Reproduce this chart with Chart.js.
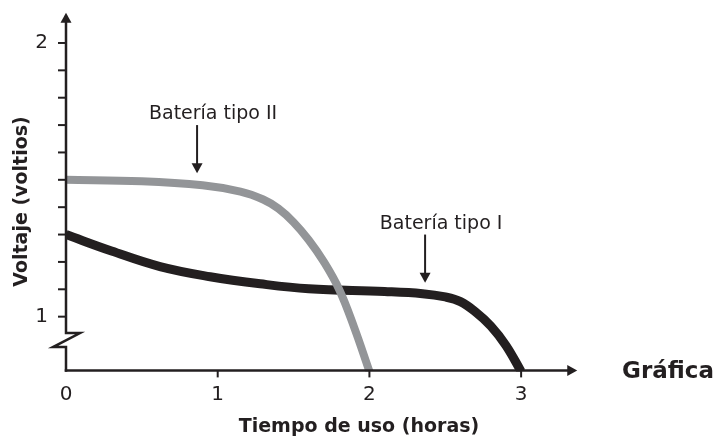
<!DOCTYPE html>
<html>
<head>
<meta charset="utf-8">
<script src="https://cdn.jsdelivr.net/npm/chart.js@4.4.1/dist/chart.umd.min.js"></script>
<style>
  html, body { margin: 0; padding: 0; background: #fff; }
  #wrap { width: 720px; height: 437px; position: relative; }
</style>
</head>
<body>
<div id="wrap"><canvas id="voltajeChart"></canvas></div>
<script>
// Valores (tiempo en horas, voltaje en voltios)
const tiempoTipoII = [0, 0.5, 0.9, 1.15, 1.3, 1.4, 1.5, 1.6, 1.7, 1.8, 1.9, 2.0];
const voltajeTipoII = [1.50, 1.495, 1.48, 1.457, 1.428, 1.395, 1.345, 1.28, 1.20, 1.10, 0.96, 0.80];
const tiempoTipoI = [0, 0.3, 0.62, 0.95, 1.28, 1.6, 2.1, 2.35, 2.5, 2.6, 2.7, 2.8, 2.9, 3.0];
const voltajeTipoI = [1.30, 1.24, 1.183, 1.146, 1.12, 1.102, 1.092, 1.084, 1.072, 1.055, 1.017, 0.966, 0.895, 0.80];

// Marcas de los ejes
const xTicks = [0, 1, 2, 3];
const yTickLabels = [1, 2];
const yMinorTicks = [1.0, 1.1, 1.2, 1.3, 1.4, 1.5, 1.6, 1.7, 1.8, 1.9, 2.0];

// Flechas de las etiquetas: [tiempo, voltaje inicio, voltaje punta]
const etiquetas = ["Batería tipo II", "Batería tipo I"];
const flechaTiempo = [0.864, 2.367];
const flechaInicio = [1.70, 1.30];
const flechaPunta = [1.524, 1.124];

const NEGRO = "#231f20";
const GRIS = "#939598";
const FUENTE = "'DejaVu Sans', Verdana, sans-serif";

const toPoints = (xs, ys) => xs.map((x, i) => ({ x: x, y: ys[i] }));

function flecha(ctx, x, y1, y2) {
    ctx.beginPath();
    ctx.moveTo(x, y1);
    ctx.lineTo(x, y2 - 9);
    ctx.stroke();
    ctx.beginPath();
    ctx.moveTo(x - 5.5, y2 - 10);
    ctx.lineTo(x + 5.5, y2 - 10);
    ctx.lineTo(x, y2);
    ctx.closePath();
    ctx.fill();
}

// Dibuja ejes, corte del eje, marcas, textos y flechas
const ejesPlugin = {
    id: "ejes",
    afterDatasetsDraw(chart) {
        const ctx = chart.ctx;
        const xs = chart.scales.x;
        const ys = chart.scales.y;
        const x0 = xs.getPixelForValue(0);
        const yBase = chart.chartArea.bottom - 1;

        ctx.save();
        ctx.strokeStyle = NEGRO;
        ctx.fillStyle = NEGRO;
        ctx.lineWidth = 2.5;
        ctx.lineCap = "butt";

        // eje x
        const xEnd = xs.getPixelForValue(3.37);
        ctx.beginPath();
        ctx.moveTo(x0 - 1.25, yBase);
        ctx.lineTo(xEnd - 9, yBase);
        ctx.stroke();
        ctx.beginPath();
        ctx.moveTo(xEnd - 10, yBase - 5.5);
        ctx.lineTo(xEnd - 10, yBase + 5.5);
        ctx.lineTo(xEnd, yBase);
        ctx.closePath();
        ctx.fill();

        // eje y con corte
        const yCorteBajo = ys.getPixelForValue(0.889);
        const yCorteAlto = ys.getPixelForValue(0.94);
        const yEnd = ys.getPixelForValue(2.11);
        ctx.lineJoin = "miter";
        ctx.beginPath();
        ctx.moveTo(x0, yBase + 1.25);
        ctx.lineTo(x0, yCorteBajo);
        ctx.lineTo(x0 - 13, yCorteBajo);
        ctx.lineTo(x0 + 14, yCorteAlto);
        ctx.lineTo(x0, yCorteAlto);
        ctx.lineTo(x0, yEnd + 9);
        ctx.stroke();
        ctx.beginPath();
        ctx.moveTo(x0 - 5.5, yEnd + 10);
        ctx.lineTo(x0 + 5.5, yEnd + 10);
        ctx.lineTo(x0, yEnd);
        ctx.closePath();
        ctx.fill();

        // marcas
        ctx.lineWidth = 2;
        yMinorTicks.forEach(v => {
            const py = ys.getPixelForValue(v);
            ctx.beginPath();
            ctx.moveTo(x0 - 8, py);
            ctx.lineTo(x0, py);
            ctx.stroke();
        });
        xTicks.filter(v => v > 0).forEach(v => {
            const px = xs.getPixelForValue(v);
            ctx.beginPath();
            ctx.moveTo(px, yBase);
            ctx.lineTo(px, yBase + 7);
            ctx.stroke();
        });

        // etiquetas de marcas
        ctx.font = "20px " + FUENTE;
        ctx.textAlign = "center";
        ctx.textBaseline = "middle";
        yTickLabels.forEach(v => ctx.fillText(String(v), x0 - 24.5, ys.getPixelForValue(v)));
        xTicks.forEach(v => ctx.fillText(String(v), xs.getPixelForValue(v), yBase + 24));

        // títulos
        ctx.font = "bold 19px " + FUENTE;
        ctx.textBaseline = "alphabetic";
        ctx.fillText("Tiempo de uso (horas)", 359, 432);
        ctx.save();
        ctx.translate(22, 201.5);
        ctx.rotate(-Math.PI / 2);
        ctx.textBaseline = "middle";
        ctx.fillText("Voltaje (voltios)", 0, 0);
        ctx.restore();

        ctx.font = "bold 23px " + FUENTE;
        ctx.textAlign = "left";
        ctx.fillText("Gráfica", 622, 378);

        // flechas y nombres de las baterías
        ctx.lineWidth = 2;
        ctx.font = "19px " + FUENTE;
        ctx.textAlign = "center";
        etiquetas.forEach((txt, i) => {
            const px = xs.getPixelForValue(flechaTiempo[i]);
            const pTop = ys.getPixelForValue(flechaInicio[i]);
            const pTip = ys.getPixelForValue(flechaPunta[i]);
            flecha(ctx, px, pTop, pTip);
            ctx.fillText(txt, px + 16, pTop - 6);
        });
        ctx.restore();
    }
};

new Chart(document.getElementById("voltajeChart"), {
    type: "line",
    data: {
        datasets: [
            {
                label: "Batería tipo II",
                data: toPoints(tiempoTipoII, voltajeTipoII),
                borderColor: GRIS,
                borderWidth: 8,
                order: 0
            },
            {
                label: "Batería tipo I",
                data: toPoints(tiempoTipoI, voltajeTipoI),
                borderColor: NEGRO,
                borderWidth: 9,
                order: 1
            }
        ]
    },
    options: {
        responsive: true,
        maintainAspectRatio: false,
        animation: false,
        events: [],
        layout: { padding: { left: 66, right: 138.2, top: 15.6, bottom: 65.6 } },
        elements: {
            point: { radius: 0 },
            line: { tension: 0.4, borderCapStyle: "butt", borderJoinStyle: "round", fill: false }
        },
        datasets: { line: { clip: 0 } },
        plugins: { legend: { display: false }, tooltip: { enabled: false } },
        scales: {
            x: { type: "linear", min: 0, max: 3.4, display: false },
            y: { type: "linear", min: 0.8, max: 2.1, display: false }
        }
    },
    plugins: [ejesPlugin]
});
</script>
</body>
</html>
